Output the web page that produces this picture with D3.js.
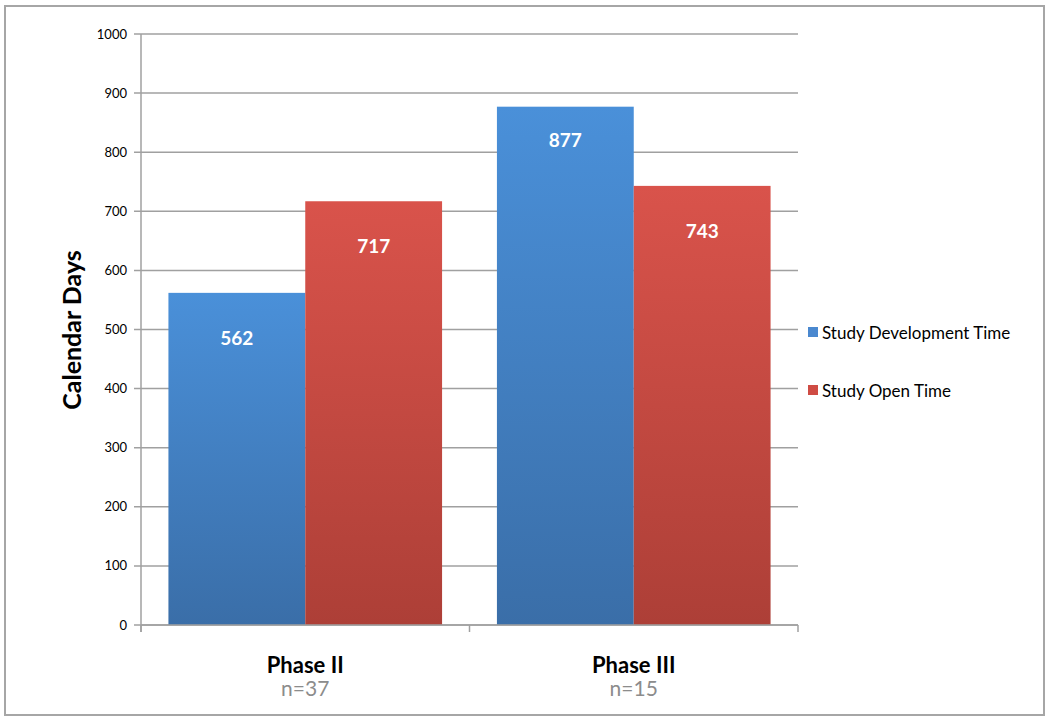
<!DOCTYPE html>
<html><head><meta charset="utf-8">
<script src="https://cdn.jsdelivr.net/npm/d3@7"></script>
<style>body{margin:0;background:#fff}svg{display:block}</style>
</head><body><svg id="c" width="1050" height="722"></svg>
<script>
const categories = ["Phase II", "Phase III"];
const sampleSizes = ["n=37", "n=15"];
const seriesNames = ["Study Development Time", "Study Open Time"];
const devValues = [562, 877];
const openValues = [717, 743];
const yTicks = [0,100,200,300,400,500,600,700,800,900,1000];

const svg = d3.select("#c");
const font = "Lato, 'Open Sans', sans-serif";
const M = {l:141, r:798, t:34, b:625};

svg.append("rect").attr("x",5).attr("y",6).attr("width",1039).attr("height",709)
  .attr("fill","#fff").attr("stroke","#a6a6a6").attr("stroke-width",2);

const defs = svg.append("defs");
const grads = [["gBlue","#4a90d9","#3a6ea8"],["gRed","#d9534b","#ad3f37"]];
grads.forEach(([id,a,b])=>{
  const g = defs.append("linearGradient").attr("id",id).attr("x1",0).attr("y1",0).attr("x2",0).attr("y2",1);
  g.append("stop").attr("offset","0%").attr("stop-color",a);
  g.append("stop").attr("offset","100%").attr("stop-color",b);
});

const y = d3.scaleLinear().domain([0,1000]).range([M.b,M.t]);
const x0 = d3.scaleBand().domain(categories).range([M.l,M.r]).paddingInner(0.167).paddingOuter(0.0835);
const x1 = d3.scaleBand().domain(seriesNames).range([0,x0.bandwidth()]);

// gridlines
svg.append("g").selectAll("line").data(yTicks).join("line")
  .attr("x1",M.l-7).attr("x2",M.r).attr("y1",d=>y(d)).attr("y2",d=>y(d))
  .attr("stroke","#a0a0a0").attr("stroke-width",1.5);

// y labels
svg.append("g").selectAll("text").data(yTicks).join("text")
  .attr("x",M.l-14).attr("y",d=>y(d)).attr("dy","0.35em").attr("text-anchor","end")
  .attr("font-family",font).attr("font-size",13).attr("fill","#000").text(d=>d);

// bars
const series = [devValues, openValues];
const fills = ["url(#gBlue)","url(#gRed)"];
categories.forEach((c,ci)=>{
  series.forEach((vals,si)=>{
    const v = vals[ci];
    const bx = x0(c)+x1(seriesNames[si]);
    svg.append("rect").attr("x",bx).attr("y",y(v)).attr("width",x1.bandwidth()).attr("height",y(0)-y(v))
      .attr("fill",fills[si]);
    svg.append("text").attr("x",bx+x1.bandwidth()/2).attr("y",y(v)+(v>800?34:45)).attr("dy","0.35em")
      .attr("text-anchor","middle").attr("font-family",font).attr("font-weight","bold")
      .attr("font-size",19).attr("fill","#fff").text(v);
  });
});

// axes
svg.append("line").attr("x1",M.l).attr("x2",M.l).attr("y1",M.t).attr("y2",M.b+7).attr("stroke","#a0a0a0").attr("stroke-width",1.5);
svg.append("line").attr("x1",M.l).attr("x2",M.r).attr("y1",M.b).attr("y2",M.b).attr("stroke","#a0a0a0").attr("stroke-width",1.5);
const bounds = [M.l, (M.l+M.r)/2, M.r];
svg.append("g").selectAll("line").data(bounds).join("line")
  .attr("x1",d=>d).attr("x2",d=>d).attr("y1",M.b).attr("y2",M.b+7).attr("stroke","#a0a0a0").attr("stroke-width",1.5);

// x labels
categories.forEach((c,ci)=>{
  const cx = x0(c)+x0.bandwidth()/2;
  svg.append("text").attr("x",cx).attr("y",665).attr("dy","0.35em").attr("text-anchor","middle")
    .attr("font-family",font).attr("font-weight","bold").attr("font-size",22).attr("fill","#000").text(c);
  svg.append("text").attr("x",cx).attr("y",689).attr("dy","0.35em").attr("text-anchor","middle")
    .attr("font-family",font).attr("font-size",21).attr("fill","#8c8c8c").text(sampleSizes[ci]);
});

// y title
svg.append("text").attr("transform","translate(72,330) rotate(-90)").attr("text-anchor","middle")
  .attr("dy","0.35em").attr("font-family",font).attr("font-weight","bold").attr("font-size",25)
  .attr("fill","#000").text("Calendar Days");

// legend
const legY = [333, 391];
const legCol = ["#4a88cf","#cf4c44"];
seriesNames.forEach((s,i)=>{
  svg.append("rect").attr("x",808).attr("y",legY[i]-6).attr("width",10).attr("height",10).attr("fill",legCol[i]);
  svg.append("text").attr("x",822).attr("y",legY[i]).attr("dy","0.35em").attr("font-family",font)
    .attr("font-size",17).attr("fill","#000").text(s);
});
</script></body></html>
